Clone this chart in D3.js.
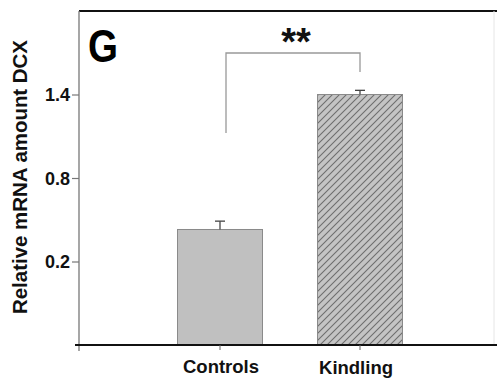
<!DOCTYPE html>
<html>
<head>
<meta charset="utf-8">
<script src="https://cdn.jsdelivr.net/npm/d3@7"></script>
<style>
  html, body { margin: 0; padding: 0; background: #fff; }
  text { font-family: "Liberation Sans", Arial, sans-serif; font-weight: bold; }
</style>
</head>
<body>
<svg id="chart" width="497" height="381"></svg>
<script>
// data
const categories = ["Controls", "Kindling"];
const means = [0.43, 1.40];
const errors = [0.06, 0.03];
const yTicks = [0.2, 0.8, 1.4];
const yLabel = "Relative mRNA amount DCX";
const panelLetter = "G";
const sigLabel = "**";

const svg = d3.select("#chart");

const plotLeft = 79, plotRight = 497, plotTop = 11, plotBottom = 345;

const y = d3.scaleLinear().domain([-0.4, 2.0]).range([plotBottom, plotTop]);
const x = d3.scaleBand().domain(categories).range([150, 430]);
const cx = d => x(d) + x.bandwidth() / 2;
const barW = 85;

// hatch pattern for the kindling bar
const defs = svg.append("defs");
const pat = defs.append("pattern")
  .attr("id", "hatch")
  .attr("patternUnits", "userSpaceOnUse")
  .attr("width", 7).attr("height", 7);
pat.append("rect").attr("width", 7).attr("height", 7).attr("fill", "#c4c4c4");
pat.append("path").attr("d", "M-1,1 L1,-1 M0,7 L7,0 M6,8 L8,6")
  .attr("stroke", "#6e6e6e").attr("stroke-width", 1.1);

// bars
svg.selectAll(".bar")
  .data(categories)
  .join("rect")
  .attr("class", "bar")
  .attr("x", d => cx(d) - barW / 2)
  .attr("width", barW)
  .attr("y", (d, i) => y(means[i]))
  .attr("height", (d, i) => y(-0.4) - y(means[i]))
  .attr("fill", (d, i) => i === 0 ? "#c0c0c0" : "url(#hatch)")
  .attr("stroke", "#8a8a8a")
  .attr("stroke-width", 1);

// error bars
categories.forEach((c, i) => {
  const g = svg.append("g").attr("stroke", "#444").attr("stroke-width", 1.3);
  g.append("line")
    .attr("x1", cx(c)).attr("x2", cx(c))
    .attr("y1", y(means[i])).attr("y2", y(means[i] + errors[i]));
  g.append("line")
    .attr("x1", cx(c) - 5).attr("x2", cx(c) + 5)
    .attr("y1", y(means[i] + errors[i])).attr("y2", y(means[i] + errors[i]));
});

// frame lines
svg.append("line").attr("x1", plotLeft).attr("x2", plotRight).attr("y1", plotTop).attr("y2", plotTop)
  .attr("stroke", "#111").attr("stroke-width", 2);
svg.append("line").attr("x1", 494).attr("x2", 494).attr("y1", plotTop).attr("y2", plotBottom)
  .attr("stroke", "#e6e6e6").attr("stroke-width", 1);

// y axis
const yAxis = svg.append("g")
  .attr("transform", `translate(${plotLeft},0)`)
  .call(d3.axisLeft(y).tickValues(yTicks).tickFormat(d3.format(".1f")).tickSize(7).tickPadding(2));
yAxis.select(".domain").attr("d", `M0,${plotBottom + 6}V${plotTop}`).attr("stroke", "#777").attr("stroke-width", 1.3);
yAxis.selectAll(".tick line").attr("stroke", "#777").attr("stroke-width", 1.2);
yAxis.selectAll(".tick text").attr("fill", "#111").style("font-size", "18px").attr("dy", "0.36em");

// x axis
const xAxis = svg.append("g")
  .attr("transform", `translate(0,${plotBottom})`)
  .call(d3.axisBottom(x).tickSize(5).tickPadding(10));
xAxis.select(".domain").attr("d", `M${plotLeft - 4},0H${plotRight}`).attr("stroke", "#111").attr("stroke-width", 2.2);
xAxis.selectAll(".tick line").attr("stroke", "#666").attr("stroke-width", 1);
xAxis.selectAll(".tick text").attr("fill", "#111").style("font-size", "18.5px")
  .attr("dx", (d, i) => i === 0 ? 1 : -4)
  .attr("dy", (d, i) => i === 0 ? "0.71em" : "0.77em");

// y label
svg.append("text")
  .attr("transform", "translate(27,177) rotate(-90)")
  .attr("text-anchor", "middle")
  .style("font-size", "19.5px")
  .attr("fill", "#111")
  .attr("textLength", 274)
  .attr("lengthAdjust", "spacingAndGlyphs")
  .text(yLabel);

// panel letter
svg.append("text")
  .attr("x", 88).attr("y", 62)
  .style("font-size", "46px")
  .attr("fill", "#000")
  .attr("textLength", 30)
  .attr("lengthAdjust", "spacingAndGlyphs")
  .text(panelLetter);

// significance bracket
const bracketY = 53;
svg.append("path")
  .attr("d", `M${cx(categories[0]) + 6},133V${bracketY}H${cx(categories[1])}V72`)
  .attr("fill", "none")
  .attr("stroke", "#999")
  .attr("stroke-width", 1.3);
svg.append("text")
  .attr("x", 296).attr("y", 55)
  .attr("text-anchor", "middle")
  .style("font-size", "38px")
  .attr("fill", "#111")
  .text(sigLabel);
</script>
</body>
</html>
